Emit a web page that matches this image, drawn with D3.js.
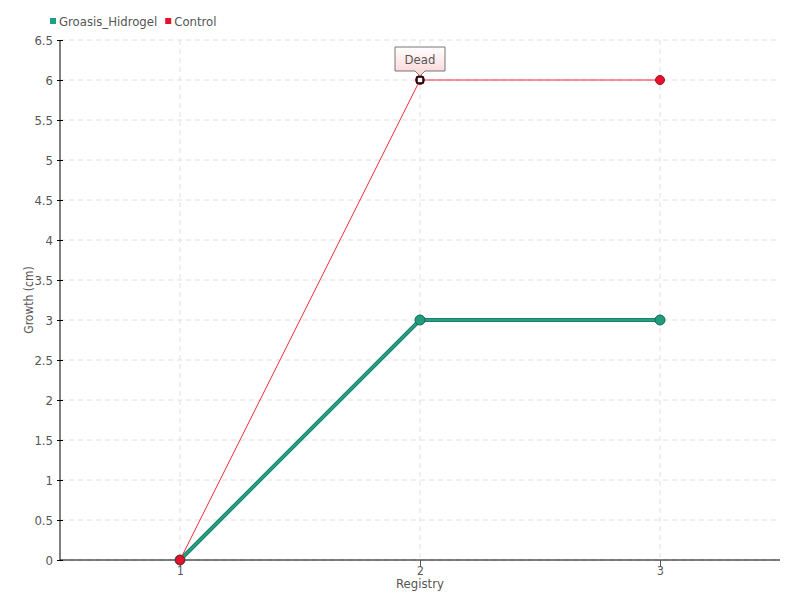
<!DOCTYPE html>
<html><head><meta charset="utf-8">
<script src="https://cdn.jsdelivr.net/npm/d3@7/dist/d3.min.js"></script>
<style>
body{margin:0;background:#fff;}
text{font-family:"DejaVu Sans Condensed","DejaVu Sans",sans-serif;}
</style></head><body>
<svg id="c" width="800" height="600"></svg>
<script>
const categories = ["1","2","3"];
const groasis = [0, 3, 3];
const control = [0, 6, 6];
const yTicks = [0,0.5,1,1.5,2,2.5,3,3.5,4,4.5,5,5.5,6,6.5];
const seriesNames = ["Groasis_Hidrogel","Control"];
const annotation = {cat:"2", value:6, label:"Dead"};

const svg = d3.select("#c");
const m = {l:60, r:20, t:40, b:40};
const W = 800, H = 600;
const x = d3.scalePoint().domain(categories).range([m.l, W-m.r]).padding(0.5);
const y = d3.scaleLinear().domain([0,6.5]).range([H-m.b, m.t]);

// grid
svg.append("g").selectAll("line").data(yTicks).join("line")
  .attr("x1",m.l).attr("x2",W-m.r).attr("y1",d=>y(d)).attr("y2",d=>y(d))
  .attr("stroke","#e0e0e0").attr("stroke-dasharray","5,4");
svg.append("g").selectAll("line").data(categories).join("line")
  .attr("x1",d=>x(d)).attr("x2",d=>x(d)).attr("y1",m.t).attr("y2",H-m.b)
  .attr("stroke","#e0e0e0").attr("stroke-dasharray","5,4");

// axes
const ya = svg.append("g").attr("transform",`translate(${m.l},0)`)
  .call(d3.axisLeft(y).tickValues(yTicks).tickFormat(d3.format("")).tickSize(3).tickPadding(4));
ya.select(".domain").attr("stroke","#000").attr("d",`M0,${m.t}V${H-m.b}`);
ya.selectAll(".tick line").attr("x1",3).attr("x2",-3).attr("stroke","#000");
ya.selectAll("text").attr("fill","#555").attr("font-size",13);

const xa = svg.append("g").attr("transform",`translate(0,${H-m.b})`)
  .call(d3.axisBottom(x).tickSize(6).tickPadding(0));
xa.select(".domain").attr("stroke","#000").attr("d",`M${m.l},0H${W-m.r}`);
xa.selectAll(".tick line").attr("stroke","#555");
xa.selectAll("text").attr("fill","#555").attr("font-size",12);

svg.append("text").attr("x",(m.l+W-m.r)/2).attr("y",588).attr("text-anchor","middle")
  .attr("fill","#555").attr("font-size",13).text("Registry");
svg.append("text").attr("transform",`translate(33,${(m.t+H-m.b)/2}) rotate(-90)`)
  .attr("text-anchor","middle").attr("fill","#555").attr("font-size",12).text("Growth (cm)");

const line = d3.line().x((d,i)=>x(categories[i])).y(d=>y(d));
// green series
svg.append("path").datum(groasis).attr("d",line).attr("fill","none")
  .attr("stroke","#1d7d66").attr("stroke-width",4);
svg.append("path").datum(groasis).attr("d",line).attr("fill","none")
  .attr("stroke","#22a386").attr("stroke-width",2);
svg.append("g").selectAll("circle").data(groasis).join("circle")
  .attr("cx",(d,i)=>x(categories[i])).attr("cy",d=>y(d)).attr("r",5)
  .attr("fill","#1f9c7c").attr("stroke","#176651").attr("stroke-width",1);
// red series
svg.append("path").datum(control).attr("d",line).attr("fill","none")
  .attr("stroke","#f0283a").attr("stroke-width",1);
svg.append("g").selectAll("circle").data(control).join("circle")
  .attr("cx",(d,i)=>x(categories[i])).attr("cy",d=>y(d)).attr("r",4.5)
  .attr("fill","#e8112d").attr("stroke","#a0101e").attr("stroke-width",1);

// annotation
const ax = x(annotation.cat), ay = y(annotation.value);
svg.append("rect").attr("x",ax-3).attr("y",ay-3).attr("width",6).attr("height",6)
  .attr("fill","#fff").attr("stroke","#000").attr("stroke-width",1.5);
const defs = svg.append("defs");
const gr = defs.append("linearGradient").attr("id","ag").attr("x1",0).attr("x2",0).attr("y1",0).attr("y2",1);
gr.append("stop").attr("offset","0%").attr("stop-color","#ffffff");
gr.append("stop").attr("offset","100%").attr("stop-color","#fbd3d3");
const bx0 = ax-25, bx1 = ax+25, by0 = ay-33, by1 = ay-9;
svg.append("path")
  .attr("d",`M${bx0},${by0}H${bx1}V${by1}H${ax+5}L${ax},${ay-4}L${ax-5},${by1}H${bx0}Z`)
  .attr("fill","url(#ag)").attr("stroke","#777").attr("stroke-width",1);
svg.append("text").attr("x",ax).attr("y",by0+17).attr("text-anchor","middle")
  .attr("fill","#555").attr("font-size",13).text(annotation.label);

// legend
const legColors = ["#1fa083","#e8112d"];
const lg = svg.append("g");
let lx = 50;
seriesNames.forEach((n,i)=>{
  lg.append("rect").attr("x",lx).attr("y",18).attr("width",6).attr("height",6).attr("fill",legColors[i]);
  const t = lg.append("text").attr("x",lx+9).attr("y",26).attr("fill","#555").attr("font-size",13).text(n);
  lx += 9 + t.node().getComputedTextLength() + 8;
});
</script></body></html>
